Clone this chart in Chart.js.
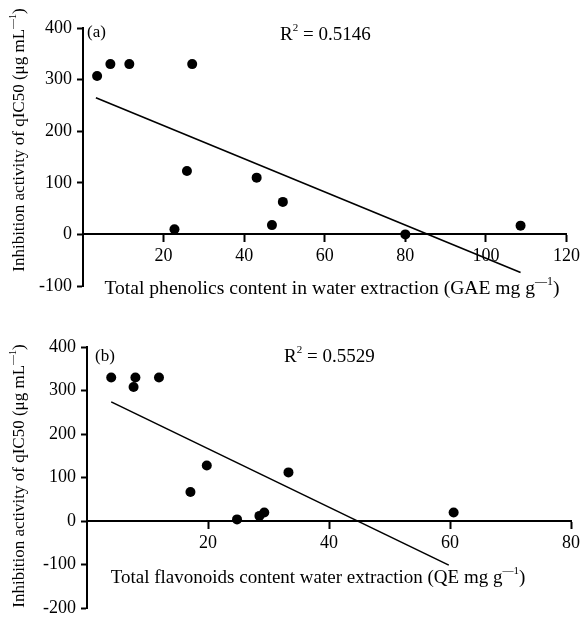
<!DOCTYPE html>
<html><head><meta charset="utf-8">
<script src="https://cdn.jsdelivr.net/npm/chart.js@4.4.1/dist/chart.umd.min.js"></script>
<style>
html,body{margin:0;padding:0;background:#fff;width:584px;height:624px;overflow:hidden}
.box{position:absolute;left:0;width:584px}
#wa{top:0;height:310px}
#wb{top:310px;height:314px}
</style></head><body>
<div class="box" id="wa"><canvas id="ca"></canvas></div>
<div class="box" id="wb"><canvas id="cb"></canvas></div>
<script>
// ---- Panel (a): total phenolics vs inhibition ----
const phenolicsX  = [3.5, 6.8, 11.5, 27.1, 22.7, 25.8, 43.1, 46.9, 49.6, 80.0, 108.6];
const inhibitionA = [307, 330, 330, 330, 10, 123, 110, 18, 63, 0, 17];
const trendAX = [3.2, 108.6];
const trendAY = [265, -74];
const xTicksA = [20, 40, 60, 80, 100, 120];
const yTicksA = [-100, 0, 100, 200, 300, 400];
const r2A = '0.5146';
// ---- Panel (b): total flavonoids vs inhibition ----
const flavonoidsX = [4.0, 7.7, 8.0, 11.9, 17.1, 19.8, 24.8, 28.5, 29.3, 33.3, 60.6];
const inhibitionB = [330, 308, 330, 330, 67, 128, 4, 12, 20, 112, 20];
const trendBX = [4.0, 59.8];
const trendBY = [274, -101];
const xTicksB = [20, 40, 60, 80];
const yTicksB = [-200, -100, 0, 100, 200, 300, 400];
const r2B = '0.5529';

const FAMILY = '"Liberation Serif", "Times New Roman", serif';

function drawRuns(ctx, runs, size, x, y, align, rot) {
  ctx.save();
  ctx.translate(x, y);
  if (rot) ctx.rotate(rot);
  ctx.fillStyle = '#000';
  ctx.textBaseline = 'middle';
  ctx.textAlign = 'left';
  let total = 0;
  const widths = runs.map(r => {
    ctx.font = (r.sup ? Math.round(size * 0.6) : size) + 'px ' + FAMILY;
    const w = ctx.measureText(r.t).width;
    total += w; return w;
  });
  let cx = align === 'center' ? -total / 2 : 0;
  runs.forEach((r, i) => {
    ctx.font = (r.sup ? Math.round(size * 0.6) : size) + 'px ' + FAMILY;
    ctx.fillText(r.t, cx, r.sup ? -size * 0.38 : 0);
    cx += widths[i];
  });
  ctx.restore();
}

const overlay = {
  id: 'overlay',
  afterDraw(chart, args, opts) {
    const ctx = chart.ctx;
    (opts.items || []).forEach(it => drawRuns(ctx, it.runs, it.size, it.x, it.y, it.align, it.rot));
  }
};

function makeChart(id, xs, ys, tx, ty, xTicks, yTicks, xMax, pad, items) {
  const pts = xs.map((x, i) => ({x: x, y: ys[i]}));
  const trend = tx.map((x, i) => ({x: x, y: ty[i]}));
  const tickFont = {family: FAMILY, size: 18};
  return new Chart(document.getElementById(id), {
    type: 'scatter',
    data: {datasets: [
      {data: pts, pointRadius: 5, pointHoverRadius: 5, backgroundColor: '#000', borderWidth: 0},
      {type: 'line', data: trend, borderColor: '#000', borderWidth: 1.6, pointRadius: 0, fill: false, tension: 0}
    ]},
    options: {
      responsive: true, maintainAspectRatio: false, animation: false, devicePixelRatio: 1,
      layout: {padding: pad},
      plugins: {legend: {display: false}, tooltip: {enabled: false}, overlay: {items: items}},
      scales: {
        x: {
          type: 'linear', min: 0, max: xMax, position: {y: 0},
          afterBuildTicks: s => { s.ticks = xTicks.map(v => ({value: v})); },
          grid: {drawOnChartArea: false, drawTicks: true, tickLength: 7, tickWidth: 2, tickColor: '#000'},
          border: {display: true, color: '#000', width: 2},
          ticks: {color: '#000', font: tickFont, padding: 4, maxRotation: 0, autoSkip: false}
        },
        y: {
          type: 'linear', min: yTicks[0], max: yTicks[yTicks.length - 1], position: 'left',
          afterBuildTicks: s => { s.ticks = yTicks.map(v => ({value: v})); },
          afterFit: s => { s.width = 60; },
          grid: {drawOnChartArea: false, drawTicks: true, tickLength: 6, tickWidth: 2, tickColor: '#000'},
          border: {display: true, color: '#000', width: 2},
          ticks: {color: '#000', font: tickFont, padding: 5, autoSkip: false}
        }
      }
    },
    plugins: [overlay]
  });
}

const yTitleRuns = [{t: 'Inhibition activity of qIC50 (\u03bcg mL'}, {t: '\u20141', sup: true}, {t: ')'}];

makeChart('ca', phenolicsX, inhibitionA, trendAX, trendAY, xTicksA, yTicksA, 120,
  {left: 23, right: 17, top: 28, bottom: 24},
  [
    {runs: [{t: '(a)'}], size: 17, x: 87, y: 33, align: 'left'},
    {runs: [{t: 'R'}, {t: '2', sup: true}, {t: ' = ' + r2A}], size: 19, x: 280, y: 35.5, align: 'left'},
    {runs: [{t: 'Total phenolics content in water extraction (GAE mg g'}, {t: '\u20141', sup: true}, {t: ')'}], size: 19.6, x: 332, y: 289, align: 'center'},
    {runs: yTitleRuns, size: 17, x: 20, y: 140, align: 'center', rot: -Math.PI / 2}
  ]);

makeChart('cb', flavonoidsX, inhibitionB, trendBX, trendBY, xTicksB, yTicksB, 80,
  {left: 27, right: 13, top: 37, bottom: 15},
  [
    {runs: [{t: '(b)'}], size: 17, x: 95, y: 46.5, align: 'left'},
    {runs: [{t: 'R'}, {t: '2', sup: true}, {t: ' = ' + r2B}], size: 19, x: 284, y: 47, align: 'left'},
    {runs: [{t: 'Total flavonoids content water extraction (QE mg g'}, {t: '\u20141', sup: true}, {t: ')'}], size: 19, x: 318, y: 268, align: 'center'},
    {runs: yTitleRuns, size: 17, x: 20, y: 166, align: 'center', rot: -Math.PI / 2}
  ]);
</script>
</body></html>
